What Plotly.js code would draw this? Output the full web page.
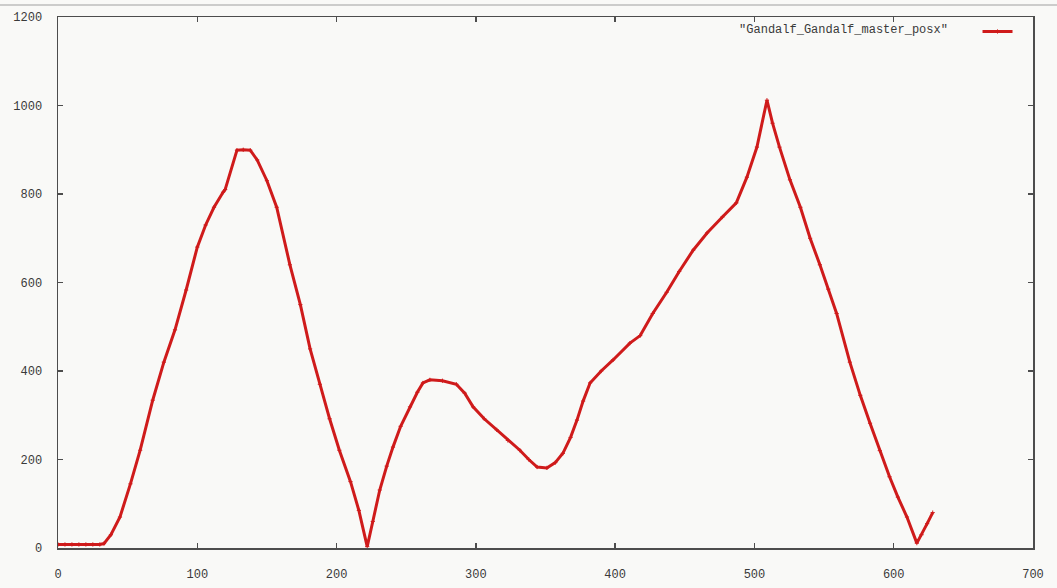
<!DOCTYPE html>
<html>
<head>
<meta charset="utf-8">
<script src="https://cdn.plot.ly/plotly-3.0.1.min.js"></script>
<style>
  html, body { margin: 0; padding: 0; background: #f9f9f7; }
  #chart { width: 1057px; height: 588px; }
</style>
</head>
<body>
<div id="chart"></div>
<script>
const seriesName = '"Gandalf_Gandalf_master_posx"';

const xValues = [0, 5, 10, 15, 20, 25, 30, 33, 38, 44.5, 52, 59, 68, 76, 84, 92, 100, 106, 112, 118.5, 120,
  128.5, 133, 138, 143, 150, 157, 166.5, 174, 181, 188, 195, 202, 210, 216, 222,
  226, 231, 236, 240.5, 246, 252.7, 258, 262, 267, 276, 286, 292, 298, 306, 315, 323, 331.6, 338, 344, 351,
  357, 362.5, 368, 372.6, 377, 382, 390, 398.5, 410.6, 418, 427, 437, 446, 456, 466, 477, 487, 494.6, 501.8, 509,
  513, 518, 525.5, 533, 540, 547, 553, 559, 568.5, 576, 583, 590, 597, 603, 609.5, 616.6, 620, 624, 628];

const yValues = [8, 8, 8, 8, 8, 8, 8, 10, 30, 70, 145, 221, 334, 420, 493, 583, 680, 730, 770, 804, 810,
  899, 900, 899, 877, 830, 770, 640, 550, 450, 370, 292, 221, 150, 85, 3,
  60, 131, 185, 228, 275, 319, 352, 373, 380, 378, 370, 350, 319, 292, 267, 243, 221, 200, 183, 181,
  193, 214, 250, 289, 332, 373, 400, 425, 463, 480, 530, 578, 625, 673, 712, 748, 780, 838, 906, 1012,
  960, 906, 832, 770, 700, 640, 585, 530, 420, 345, 282, 220, 161, 115, 70, 11, 30, 55, 80];

const xTicks = [0, 100, 200, 300, 400, 500, 600, 700];
const yTicks = [0, 200, 400, 600, 800, 1000, 1200];

const lineColor = '#cf1b1b';
const tickFont = { family: 'Liberation Mono, DejaVu Sans Mono, monospace', size: 12, color: '#3a3a3a' };

const trace = {
  x: xValues,
  y: yValues,
  type: 'scatter',
  mode: 'lines+markers',
  name: ' ',
  line: { color: lineColor, width: 3 },
  marker: { symbol: 'cross-thin-open', size: 3, color: lineColor, line: { color: lineColor, width: 1 } }
};

const axisCommon = {
  showgrid: false,
  zeroline: false,
  showline: true,
  mirror: 'ticks',
  linecolor: '#4d4d4d',
  linewidth: 1.5,
  ticks: 'inside',
  ticklen: 5,
  tickwidth: 1.5,
  tickcolor: '#4d4d4d',
  tickfont: tickFont
};

const layout = {
  width: 1057,
  height: 588,
  margin: { l: 58, r: 24, t: 17, b: 40 },
  paper_bgcolor: '#f9f9f7',
  plot_bgcolor: '#f9f9f7',
  showlegend: true,
  legend: {
    x: 0.997, y: 1.0, xanchor: 'right', yanchor: 'top',
    bgcolor: 'rgba(0,0,0,0)',
    font: tickFont,
    title: { text: seriesName + '\u00a0\u00a0\u00a0', side: 'left', font: tickFont },
    itemwidth: 30
  },
  xaxis: Object.assign({}, axisCommon, {
    range: [0, 700],
    tickvals: xTicks,
    ticktext: xTicks.map(String),
    ticklabelstandoff: 14
  }),
  yaxis: Object.assign({}, axisCommon, {
    range: [0, 1200],
    tickvals: yTicks,
    ticktext: yTicks.map(String),
    ticklabelstandoff: 12
  }),
  shapes: [{
    type: 'line', xref: 'paper', yref: 'paper',
    x0: -0.06, x1: 1.03, y0: 1.0227, y1: 1.0227,
    line: { color: '#bdbdbd', width: 1.5 }
  }]
};

Plotly.newPlot('chart', [trace], layout, { displayModeBar: false, staticPlot: true });
</script>
</body>
</html>
